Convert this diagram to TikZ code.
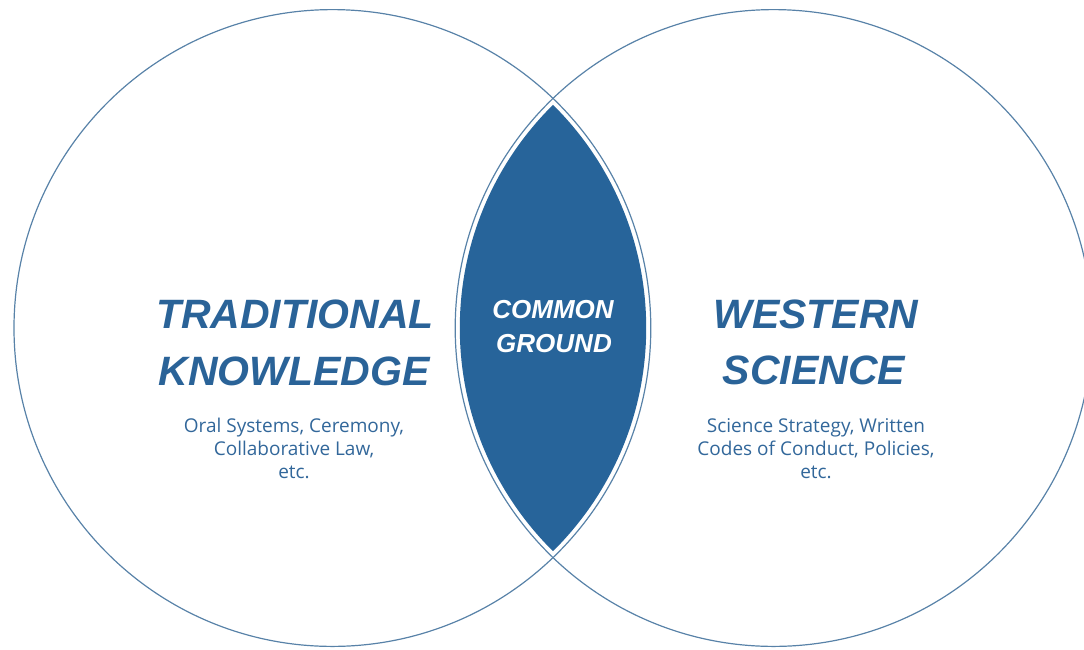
\documentclass[tikz,border=0pt]{standalone}
\usepackage{fontspec}
\setmainfont{Liberation Sans}
\newfontfamily\bodyfont{Open Sans}
\definecolor{ringblue}{HTML}{5882A8}
\definecolor{lensblue}{HTML}{27649A}
\definecolor{headblue}{HTML}{2A6398}
\definecolor{bodyblue}{HTML}{32679A}
\tikzset{
  ring/.style={draw=ringblue, line width=1.2pt},
  head/.style={anchor=base, inner sep=0pt, text=headblue, font=\fontsize{41}{48}\selectfont\bfseries\itshape},
  smallhead/.style={anchor=base, inner sep=0pt, text=white, font=\fontsize{26}{30}\selectfont\bfseries\itshape},
  body/.style={anchor=base, inner sep=0pt, text=bodyblue, font=\bodyfont\fontsize{19}{22}\selectfont}
}
\begin{document}
\begin{tikzpicture}[x=1pt,y=-1pt]
\useasboundingbox (0,0) rectangle (1084,649);
\coordinate (cl) at (332.4,328);
\coordinate (cr) at (773.6,328);
% common ground lens
\begin{scope}
  \clip (cl) circle[radius=313.8pt];
  \fill[lensblue] (cr) circle[radius=313.8pt];
\end{scope}
% circles
\draw[ring] (cl) circle[radius=318.4pt];
\draw[ring] (cr) circle[radius=318.4pt];
% left texts
\node[head] (tk1) at (295,328) {TRADITIONAL};
\node[head] (tk2) at (294,385) {KNOWLEDGE};
\node[body] (tb1) at (294,432) {Oral Systems, Ceremony,};
\node[body] (tb2) at (294,455) {Collaborative Law,};
\node[body] (tb3) at (294,478) {etc.};
% right texts
\node[head] (ws1) at (816,328) {WESTERN};
\node[head] (ws2) at (814,384) {SCIENCE};
\node[body] (wb1) at (816,432) {Science Strategy, Written};
\node[body] (wb2) at (816,455) {Codes of Conduct, Policies,};
\node[body] (wb3) at (816,478) {etc.};
% center texts
\node[smallhead] (cg1) at (553,318) {COMMON};
\node[smallhead] (cg2) at (554,352) {GROUND};
\end{tikzpicture}
\end{document}
